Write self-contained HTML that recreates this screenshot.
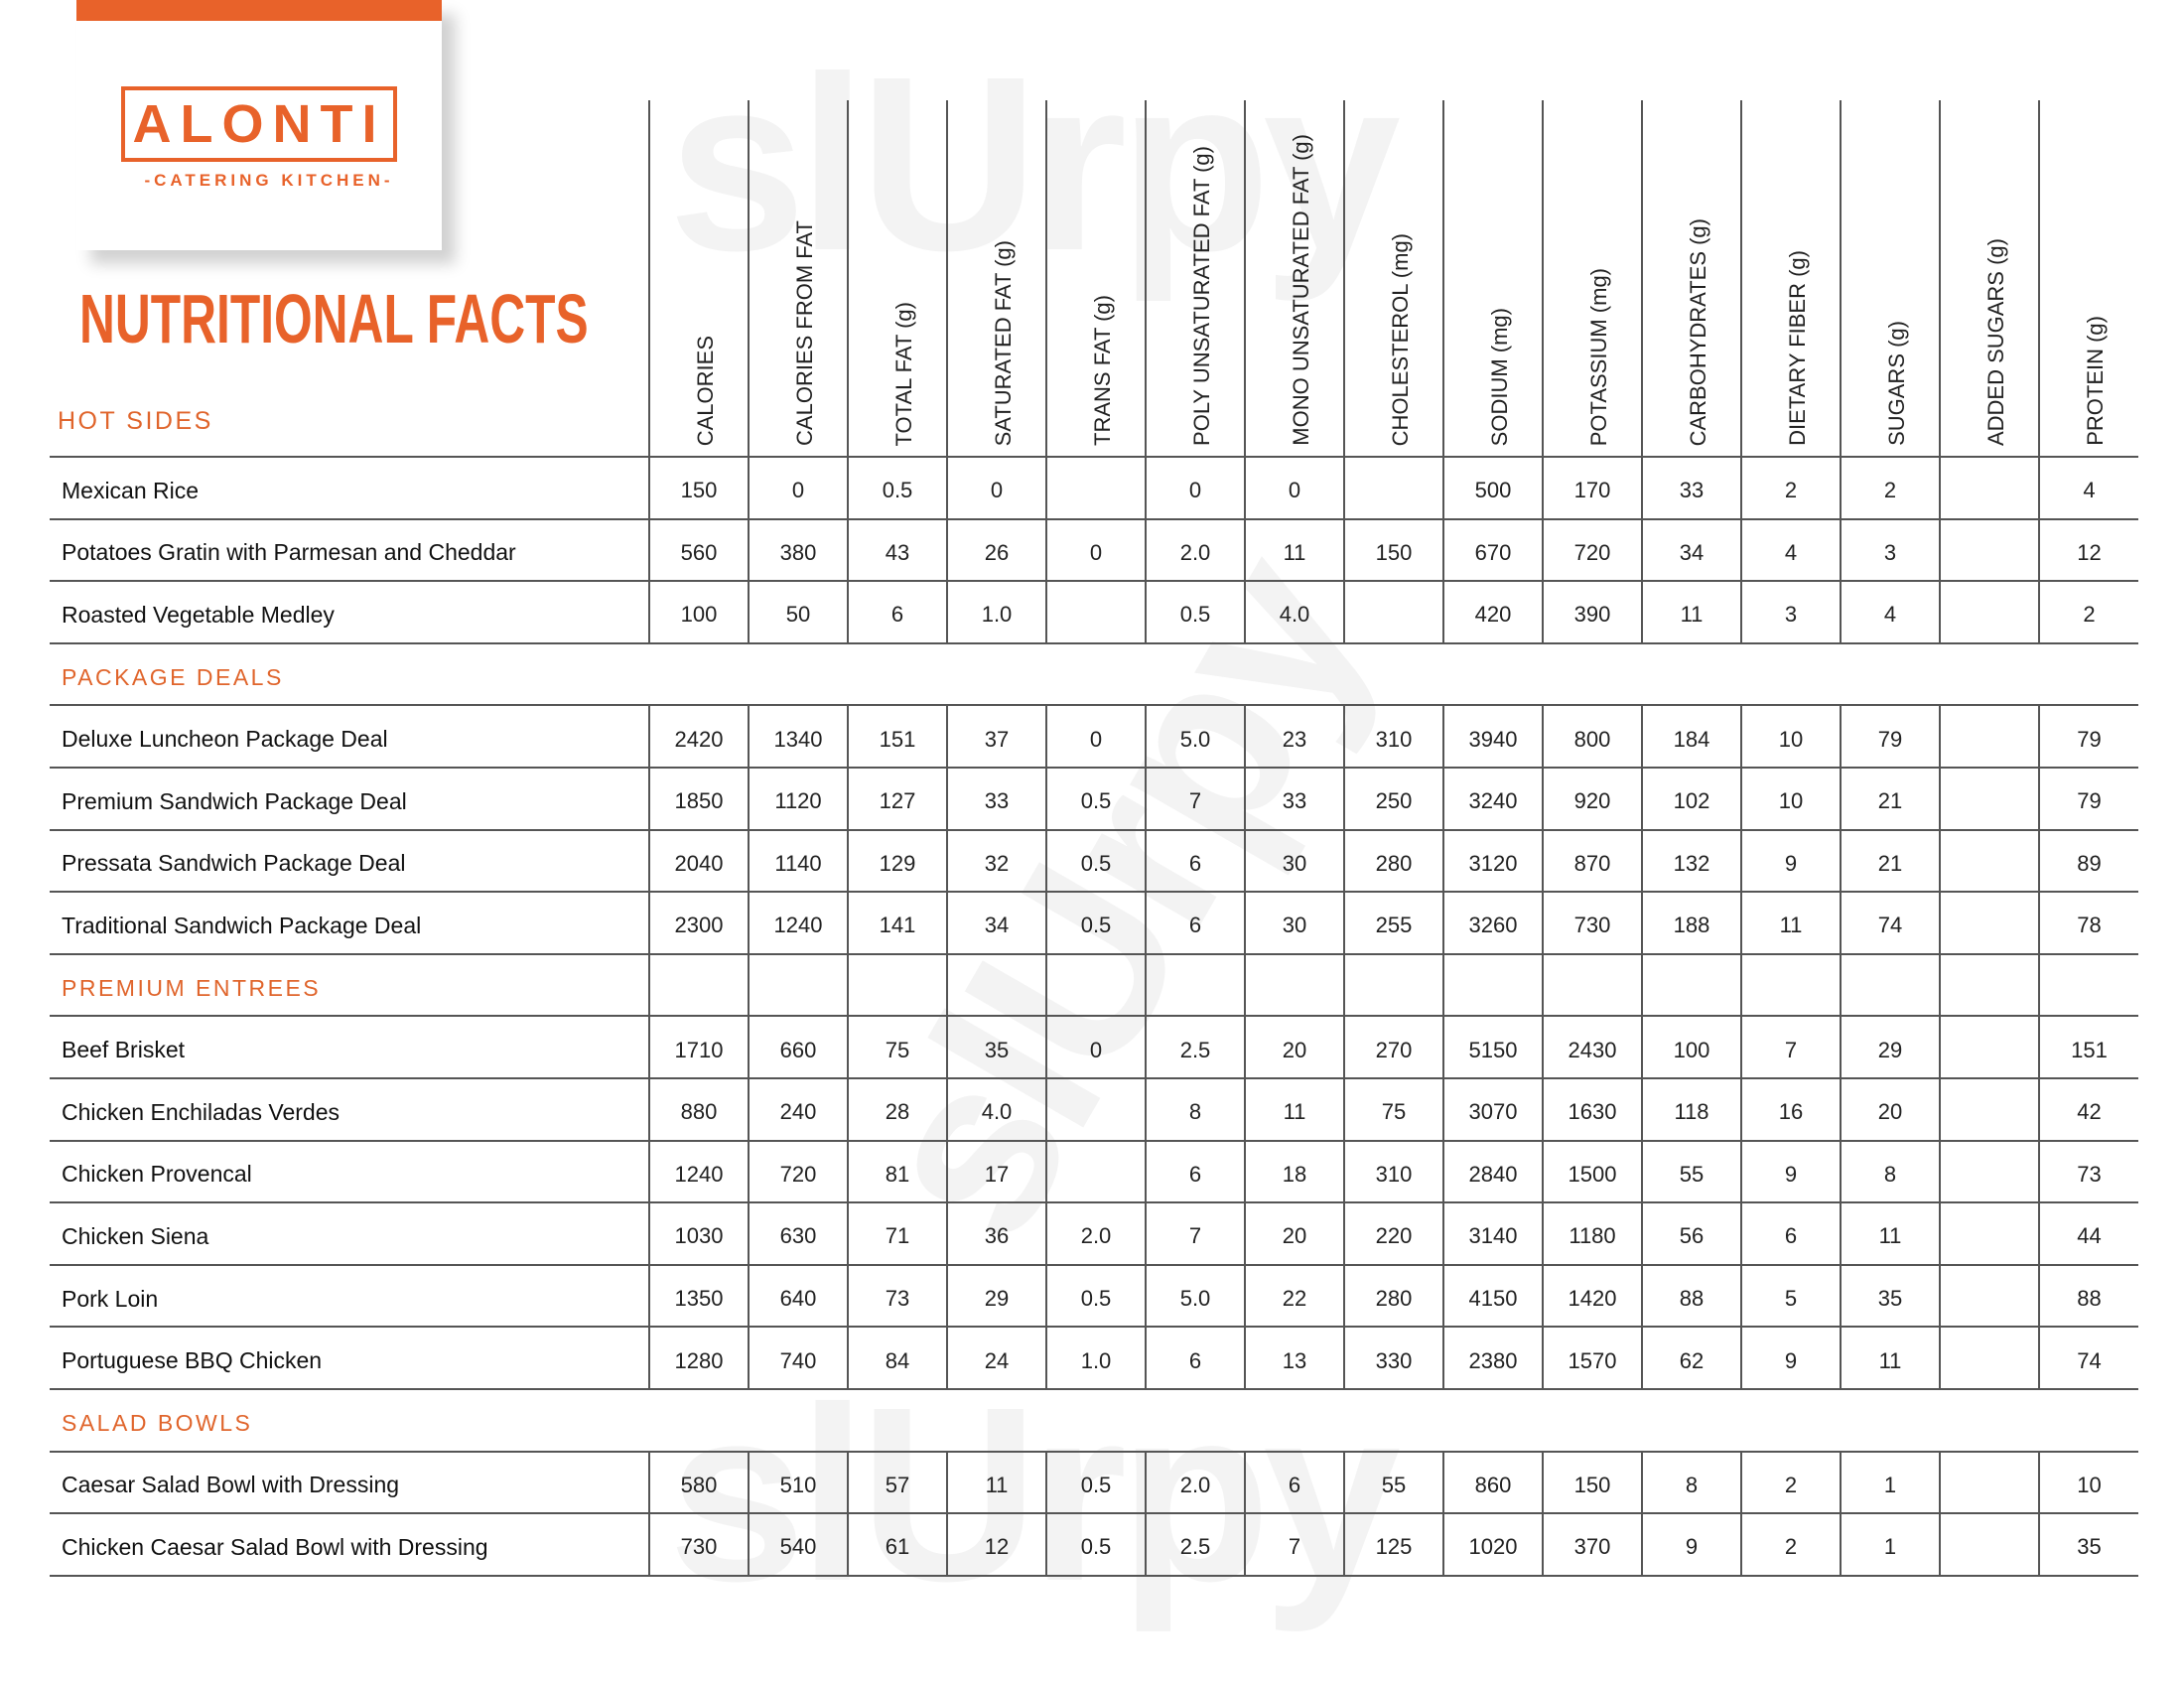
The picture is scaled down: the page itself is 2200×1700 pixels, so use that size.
<!DOCTYPE html>
<html><head><meta charset="utf-8">
<style>
body{margin:0;width:2200px;height:1700px;background:#fff;position:relative;overflow:hidden;font-family:"Liberation Sans",sans-serif;}
.wm{position:absolute;font-weight:bold;color:#f3f3f3;font-size:250px;letter-spacing:-8px;line-height:1;}
.card{position:absolute;left:77px;top:0;width:368px;height:252px;background:#fff;box-shadow:14px 14px 14px rgba(0,0,0,0.18);}
.bar{position:absolute;left:77px;top:0;width:368px;height:21px;background:#e8622a;}
.logo{position:absolute;left:122px;top:87px;width:270px;height:68px;border:4px solid #e8622a;color:#e8622a;font-weight:bold;font-size:54px;text-align:center;line-height:68px;letter-spacing:9px;}
.sub{position:absolute;left:140px;top:172px;width:262px;text-align:center;color:#e8622a;font-weight:bold;font-size:17px;letter-spacing:4px;white-space:nowrap;}
.title{position:absolute;left:80px;top:286px;color:#e8622a;font-weight:bold;font-size:70px;transform:scaleX(0.71);transform-origin:0 0;white-space:nowrap;line-height:1;}
.sec{color:#e0652c !important;font-size:25px;letter-spacing:2.5px;}
.vl{position:absolute;top:101px;height:360px;width:2px;background:#555;}
.hl{position:absolute;width:100px;top:101px;height:348px;display:flex;justify-content:center;align-items:flex-end;}
.hl span{writing-mode:vertical-rl;transform:rotate(180deg);font-size:22px;color:#222;white-space:nowrap;margin-left:14px;}
table{position:absolute;left:50px;top:459px;border-collapse:collapse;table-layout:fixed;}
td{height:54.6px;padding-top:6px;border-top:2px solid #555;border-bottom:2px solid #555;padding-left:0;padding-right:0;padding-bottom:0;font-size:22px;color:#222;text-align:center;}
td.n{text-align:left;padding-left:12px;font-size:23px;color:#111;}
td.v{border-left:2px solid #555;}
</style></head><body>
<div class="wm" style="left:673px;top:40px;">slUrpy</div>
<div class="wm" style="left:673px;top:1380px;">slUrpy</div>
<div class="wm" style="left:760px;top:780px;transform:rotate(-60deg);transform-origin:center;">slUrpy</div>
<div class="card"></div><div class="bar"></div>
<div class="logo">ALONTI</div>
<div class="sub">-CATERING KITCHEN-</div>
<div class="title">NUTRITIONAL FACTS</div>
<div class="sec" style="position:absolute;left:58px;top:410px;">HOT SIDES</div>

<div class="vl" style="left:653px"></div><div class="vl" style="left:753px"></div><div class="vl" style="left:853px"></div><div class="vl" style="left:953px"></div><div class="vl" style="left:1053px"></div><div class="vl" style="left:1153px"></div><div class="vl" style="left:1253px"></div><div class="vl" style="left:1353px"></div><div class="vl" style="left:1453px"></div><div class="vl" style="left:1553px"></div><div class="vl" style="left:1653px"></div><div class="vl" style="left:1753px"></div><div class="vl" style="left:1853px"></div><div class="vl" style="left:1953px"></div><div class="vl" style="left:2053px"></div>

<div class="hl" style="left:654px"><span>CALORIES</span></div>
<div class="hl" style="left:754px"><span>CALORIES FROM FAT</span></div>
<div class="hl" style="left:854px"><span>TOTAL FAT (g)</span></div>
<div class="hl" style="left:954px"><span>SATURATED FAT (g)</span></div>
<div class="hl" style="left:1054px"><span>TRANS FAT (g)</span></div>
<div class="hl" style="left:1154px"><span>POLY UNSATURATED FAT (g)</span></div>
<div class="hl" style="left:1254px"><span>MONO UNSATURATED FAT (g)</span></div>
<div class="hl" style="left:1354px"><span>CHOLESTEROL (mg)</span></div>
<div class="hl" style="left:1454px"><span>SODIUM (mg)</span></div>
<div class="hl" style="left:1554px"><span>POTASSIUM (mg)</span></div>
<div class="hl" style="left:1654px"><span>CARBOHYDRATES (g)</span></div>
<div class="hl" style="left:1754px"><span>DIETARY FIBER (g)</span></div>
<div class="hl" style="left:1854px"><span>SUGARS (g)</span></div>
<div class="hl" style="left:1954px"><span>ADDED SUGARS (g)</span></div>
<div class="hl" style="left:2054px"><span>PROTEIN (g)</span></div>

<table>
<colgroup><col style="width:604px"><col style="width:100px"><col style="width:100px"><col style="width:100px"><col style="width:100px"><col style="width:100px"><col style="width:100px"><col style="width:100px"><col style="width:100px"><col style="width:100px"><col style="width:100px"><col style="width:100px"><col style="width:100px"><col style="width:100px"><col style="width:100px"><col style="width:100px"></colgroup>
<tr><td class="n">Mexican Rice</td><td class="v">150</td><td class="v">0</td><td class="v">0.5</td><td class="v">0</td><td class="v"></td><td class="v">0</td><td class="v">0</td><td class="v"></td><td class="v">500</td><td class="v">170</td><td class="v">33</td><td class="v">2</td><td class="v">2</td><td class="v"></td><td class="v">4</td></tr>
<tr><td class="n">Potatoes Gratin with Parmesan and Cheddar</td><td class="v">560</td><td class="v">380</td><td class="v">43</td><td class="v">26</td><td class="v">0</td><td class="v">2.0</td><td class="v">11</td><td class="v">150</td><td class="v">670</td><td class="v">720</td><td class="v">34</td><td class="v">4</td><td class="v">3</td><td class="v"></td><td class="v">12</td></tr>
<tr><td class="n">Roasted Vegetable Medley</td><td class="v">100</td><td class="v">50</td><td class="v">6</td><td class="v">1.0</td><td class="v"></td><td class="v">0.5</td><td class="v">4.0</td><td class="v"></td><td class="v">420</td><td class="v">390</td><td class="v">11</td><td class="v">3</td><td class="v">4</td><td class="v"></td><td class="v">2</td></tr>
<tr><td class="n sec" colspan="16">PACKAGE DEALS</td></tr>
<tr><td class="n">Deluxe Luncheon Package Deal</td><td class="v">2420</td><td class="v">1340</td><td class="v">151</td><td class="v">37</td><td class="v">0</td><td class="v">5.0</td><td class="v">23</td><td class="v">310</td><td class="v">3940</td><td class="v">800</td><td class="v">184</td><td class="v">10</td><td class="v">79</td><td class="v"></td><td class="v">79</td></tr>
<tr><td class="n">Premium Sandwich Package Deal</td><td class="v">1850</td><td class="v">1120</td><td class="v">127</td><td class="v">33</td><td class="v">0.5</td><td class="v">7</td><td class="v">33</td><td class="v">250</td><td class="v">3240</td><td class="v">920</td><td class="v">102</td><td class="v">10</td><td class="v">21</td><td class="v"></td><td class="v">79</td></tr>
<tr><td class="n">Pressata Sandwich Package Deal</td><td class="v">2040</td><td class="v">1140</td><td class="v">129</td><td class="v">32</td><td class="v">0.5</td><td class="v">6</td><td class="v">30</td><td class="v">280</td><td class="v">3120</td><td class="v">870</td><td class="v">132</td><td class="v">9</td><td class="v">21</td><td class="v"></td><td class="v">89</td></tr>
<tr><td class="n">Traditional Sandwich Package Deal</td><td class="v">2300</td><td class="v">1240</td><td class="v">141</td><td class="v">34</td><td class="v">0.5</td><td class="v">6</td><td class="v">30</td><td class="v">255</td><td class="v">3260</td><td class="v">730</td><td class="v">188</td><td class="v">11</td><td class="v">74</td><td class="v"></td><td class="v">78</td></tr>
<tr><td class="n sec">PREMIUM ENTREES</td><td class="v"></td><td class="v"></td><td class="v"></td><td class="v"></td><td class="v"></td><td class="v"></td><td class="v"></td><td class="v"></td><td class="v"></td><td class="v"></td><td class="v"></td><td class="v"></td><td class="v"></td><td class="v"></td><td class="v"></td></tr>
<tr><td class="n">Beef Brisket</td><td class="v">1710</td><td class="v">660</td><td class="v">75</td><td class="v">35</td><td class="v">0</td><td class="v">2.5</td><td class="v">20</td><td class="v">270</td><td class="v">5150</td><td class="v">2430</td><td class="v">100</td><td class="v">7</td><td class="v">29</td><td class="v"></td><td class="v">151</td></tr>
<tr><td class="n">Chicken Enchiladas Verdes</td><td class="v">880</td><td class="v">240</td><td class="v">28</td><td class="v">4.0</td><td class="v"></td><td class="v">8</td><td class="v">11</td><td class="v">75</td><td class="v">3070</td><td class="v">1630</td><td class="v">118</td><td class="v">16</td><td class="v">20</td><td class="v"></td><td class="v">42</td></tr>
<tr><td class="n">Chicken Provencal</td><td class="v">1240</td><td class="v">720</td><td class="v">81</td><td class="v">17</td><td class="v"></td><td class="v">6</td><td class="v">18</td><td class="v">310</td><td class="v">2840</td><td class="v">1500</td><td class="v">55</td><td class="v">9</td><td class="v">8</td><td class="v"></td><td class="v">73</td></tr>
<tr><td class="n">Chicken Siena</td><td class="v">1030</td><td class="v">630</td><td class="v">71</td><td class="v">36</td><td class="v">2.0</td><td class="v">7</td><td class="v">20</td><td class="v">220</td><td class="v">3140</td><td class="v">1180</td><td class="v">56</td><td class="v">6</td><td class="v">11</td><td class="v"></td><td class="v">44</td></tr>
<tr><td class="n">Pork Loin</td><td class="v">1350</td><td class="v">640</td><td class="v">73</td><td class="v">29</td><td class="v">0.5</td><td class="v">5.0</td><td class="v">22</td><td class="v">280</td><td class="v">4150</td><td class="v">1420</td><td class="v">88</td><td class="v">5</td><td class="v">35</td><td class="v"></td><td class="v">88</td></tr>
<tr><td class="n">Portuguese BBQ Chicken</td><td class="v">1280</td><td class="v">740</td><td class="v">84</td><td class="v">24</td><td class="v">1.0</td><td class="v">6</td><td class="v">13</td><td class="v">330</td><td class="v">2380</td><td class="v">1570</td><td class="v">62</td><td class="v">9</td><td class="v">11</td><td class="v"></td><td class="v">74</td></tr>
<tr><td class="n sec" colspan="16">SALAD BOWLS</td></tr>
<tr><td class="n">Caesar Salad Bowl with Dressing</td><td class="v">580</td><td class="v">510</td><td class="v">57</td><td class="v">11</td><td class="v">0.5</td><td class="v">2.0</td><td class="v">6</td><td class="v">55</td><td class="v">860</td><td class="v">150</td><td class="v">8</td><td class="v">2</td><td class="v">1</td><td class="v"></td><td class="v">10</td></tr>
<tr><td class="n">Chicken Caesar Salad Bowl with Dressing</td><td class="v">730</td><td class="v">540</td><td class="v">61</td><td class="v">12</td><td class="v">0.5</td><td class="v">2.5</td><td class="v">7</td><td class="v">125</td><td class="v">1020</td><td class="v">370</td><td class="v">9</td><td class="v">2</td><td class="v">1</td><td class="v"></td><td class="v">35</td></tr>
</table>
</body></html>
